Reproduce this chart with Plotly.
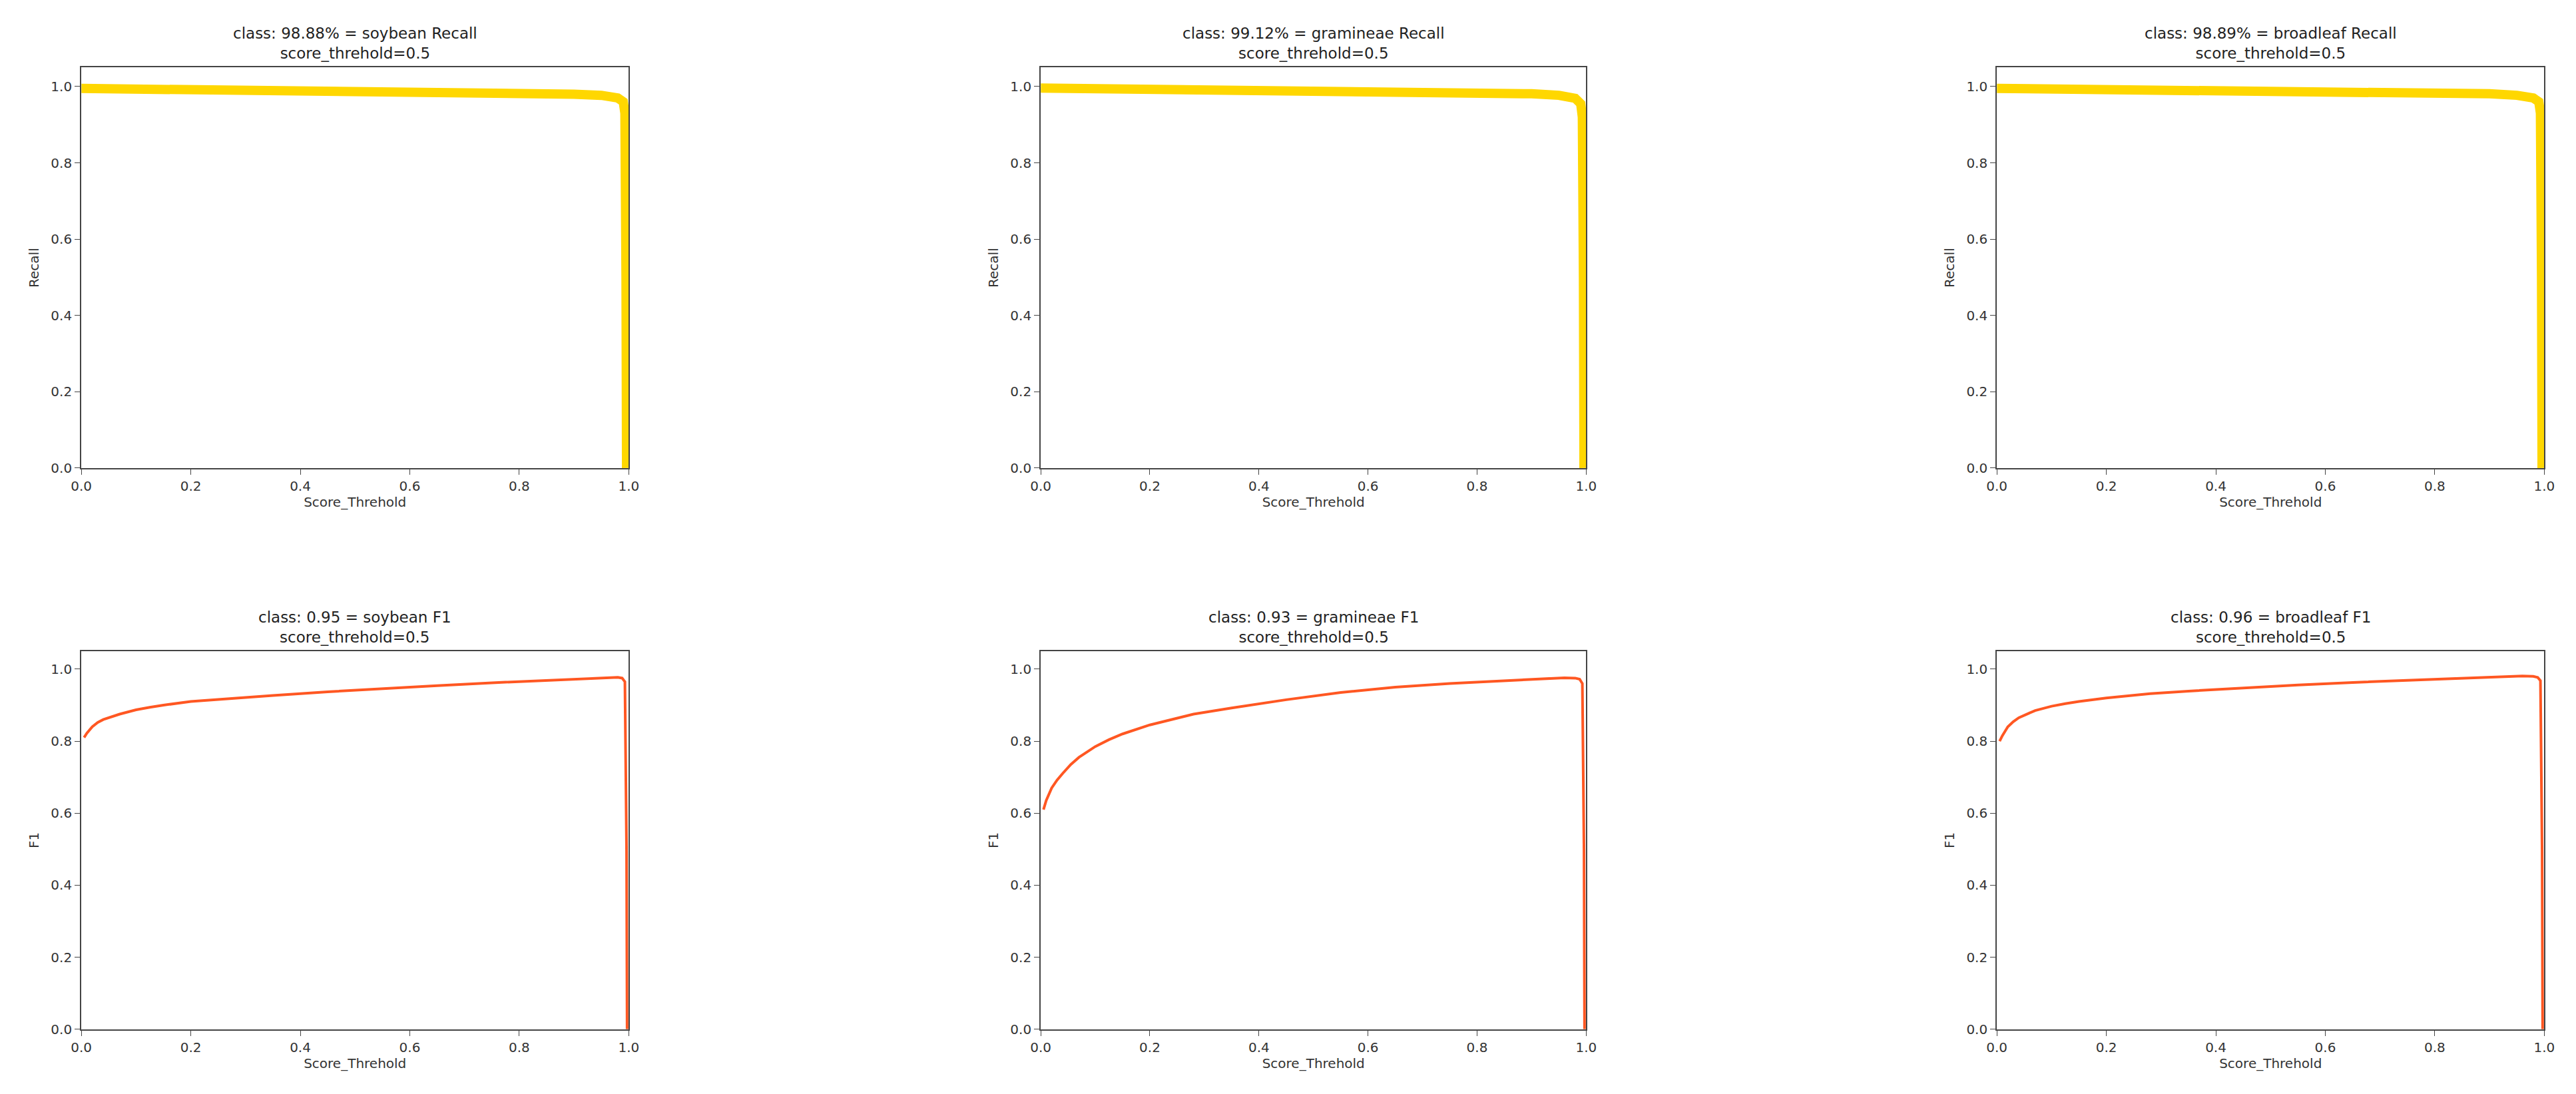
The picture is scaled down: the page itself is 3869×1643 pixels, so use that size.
import plotly.graph_objects as go

W, H = 3869, 1643
classes = ["soybean", "gramineae", "broadleaf"]
recall_titles = ["class: 98.88% = soybean Recall", "class: 99.12% = gramineae Recall", "class: 98.89% = broadleaf Recall"]
f1_titles = ["class: 0.95 = soybean F1", "class: 0.93 = gramineae F1", "class: 0.96 = broadleaf F1"]
subtitle = "score_threhold=0.5"

# Recall curves (threshold, recall)
rec_x = [0.0, 0.1, 0.2, 0.35, 0.5, 0.65, 0.8, 0.9, 0.95, 0.98, 0.99, 0.993, 0.995, 0.996]
rec_y = [
    [0.995, 0.994, 0.993, 0.991, 0.989, 0.986, 0.983, 0.980, 0.977, 0.970, 0.960, 0.930, 0.5, 0.0],
    [0.996, 0.995, 0.994, 0.992, 0.990, 0.988, 0.985, 0.981, 0.977, 0.969, 0.955, 0.920, 0.5, 0.0],
    [0.995, 0.994, 0.993, 0.991, 0.989, 0.987, 0.984, 0.981, 0.977, 0.970, 0.960, 0.930, 0.5, 0.0],
]
# F1 curves (threshold, F1)
f1_x = [0.005, 0.01, 0.02, 0.03, 0.04, 0.055, 0.07, 0.085, 0.1, 0.125, 0.15, 0.2, 0.28, 0.35, 0.45, 0.55, 0.65, 0.75, 0.85, 0.92, 0.96, 0.98, 0.988, 0.993, 0.996, 0.997]
f1_y = [
    [0.81, 0.822, 0.84, 0.852, 0.86, 0.868, 0.875, 0.881, 0.887, 0.894, 0.90, 0.91, 0.92, 0.927, 0.937, 0.946, 0.954, 0.962, 0.969, 0.974, 0.977, 0.977, 0.975, 0.965, 0.5, 0.0],
    [0.61, 0.635, 0.67, 0.692, 0.71, 0.735, 0.755, 0.771, 0.785, 0.804, 0.82, 0.845, 0.875, 0.892, 0.915, 0.935, 0.95, 0.96, 0.968, 0.974, 0.976, 0.975, 0.972, 0.96, 0.5, 0.0],
    [0.80, 0.815, 0.84, 0.854, 0.865, 0.876, 0.885, 0.891, 0.897, 0.904, 0.91, 0.92, 0.932, 0.939, 0.948, 0.956, 0.963, 0.969, 0.975, 0.979, 0.981, 0.980, 0.977, 0.968, 0.5, 0.0],
]

xdom = [[99/W, 928/W], [1552/W, 2378/W], [3000/W, 3829/W]]
ydom_top = [1-700/H, 1-94/H]
ydom_bot = [1-1549/H, 1-977/H]

fig = go.Figure()
font = "DejaVu Sans"
ann = []
for r in range(2):
    for c in range(3):
        i = r*3 + c + 1
        xa = "x" if i == 1 else f"x{i}"
        ya = "y" if i == 1 else f"y{i}"
        if r == 0:
            fig.add_trace(go.Scatter(x=rec_x, y=rec_y[c], mode="lines", line=dict(color="#FFD700", width=14),
                                     xaxis=xa, yaxis=ya, showlegend=False))
            title, ytitle, yd = recall_titles[c], "Recall", ydom_top
        else:
            fig.add_trace(go.Scatter(x=f1_x, y=f1_y[c], mode="lines", line=dict(color="#FF5722", width=4),
                                     xaxis=xa, yaxis=ya, showlegend=False))
            title, ytitle, yd = f1_titles[c], "F1", ydom_bot
        ax = dict(domain=xdom[c], range=[0, 1], tickvals=[0, 0.2, 0.4, 0.6, 0.8, 1.0],
                  ticktext=["0.0", "0.2", "0.4", "0.6", "0.8", "1.0"], showgrid=False, zeroline=False,
                  showline=True, linecolor="#444", linewidth=2, mirror=True, ticks="outside", ticklen=8,
                  tickfont=dict(size=20, family=font, color="#333"),
                  title=dict(text="Score_Threhold", font=dict(size=20, family=font, color="#333"), standoff=6),
                  anchor=ya)
        ay = dict(domain=yd, range=[0, 1.05], tickvals=[0, 0.2, 0.4, 0.6, 0.8, 1.0],
                  ticktext=["0.0", "0.2", "0.4", "0.6", "0.8", "1.0"], showgrid=False, zeroline=False,
                  showline=True, linecolor="#444", linewidth=2, mirror=True, ticks="outside", ticklen=8,
                  tickfont=dict(size=20, family=font, color="#333"),
                  title=dict(text=ytitle, font=dict(size=20, family=font, color="#333"), standoff=12),
                  anchor=xa)
        fig.update_layout(**{("xaxis" if i == 1 else f"xaxis{i}"): ax, ("yaxis" if i == 1 else f"yaxis{i}"): ay})
        ann.append(dict(text=title + "<br>" + subtitle, x=(xdom[c][0]+xdom[c][1])/2, y=yd[1], xref="paper", yref="paper",
                        xanchor="center", yanchor="bottom", yshift=6, showarrow=False,
                        font=dict(size=23, family=font, color="#222")))

fig.update_layout(width=W, height=H, margin=dict(l=0, r=0, t=0, b=0), plot_bgcolor="white",
                  paper_bgcolor="white", annotations=ann)
fig.write_html("out.html")
